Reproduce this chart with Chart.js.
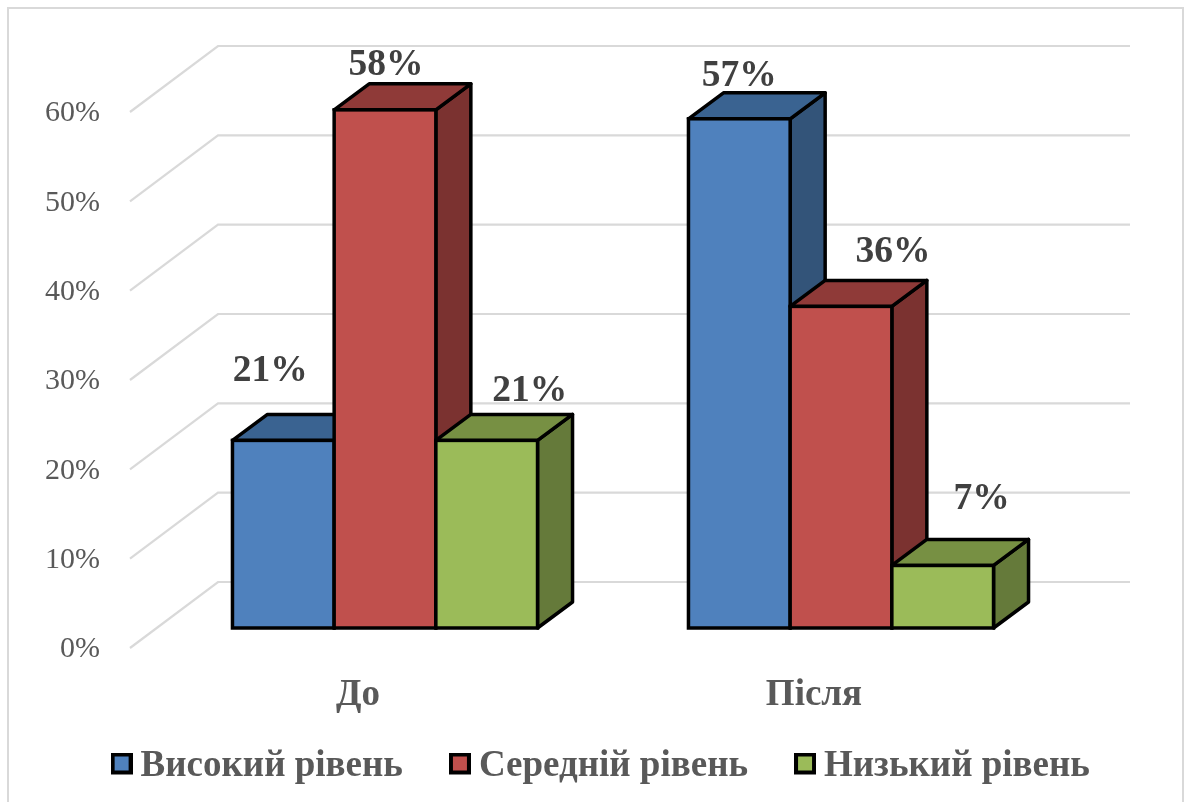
<!DOCTYPE html>
<html><head><meta charset="utf-8">
<style>html,body{margin:0;padding:0;background:#fff}canvas{display:block}</style>
<script src="https://cdn.jsdelivr.net/npm/chart.js@4/dist/chart.umd.min.js"></script>
</head><body>
<canvas id="c" width="1187" height="802"></canvas>
<script>
const categories = ['До', 'Після'];
const seriesNames = ['Високий рівень', 'Середній рівень', 'Низький рівень'];
const highLevel = [21, 57];
const midLevel = [58, 36];
const lowLevel = [21, 7];
const frontColors = ['#4F81BD', '#C0504D', '#9BBB59'];
const topColors = ['#3A6391', '#8F3A38', '#779043'];
const sideColors = ['#335479', '#7B3230', '#657A3A'];
const labelNudges = [[[-13,-69],[0,-42]], [[1,-45],[52,-54]], [[43,-49],[39,-66]]];

const wallDepth = {dx: 88, dy: -66};
const barDepth = {dx: 35, dy: -26};
const barShift = -20;

function swatch(color){
  const c = document.createElement('canvas'); c.width = 22; c.height = 28;
  const g = c.getContext('2d');
  g.fillStyle = '#000'; g.fillRect(0,0,22,22);
  g.fillStyle = color; g.fillRect(4,4,14,14);
  return c;
}
const swatches = frontColors.map(swatch);

function poly(ctx, pts, fill){
  ctx.beginPath();
  pts.forEach((p,i)=> i ? ctx.lineTo(p[0],p[1]) : ctx.moveTo(p[0],p[1]));
  ctx.closePath();
  ctx.fillStyle = fill; ctx.fill();
  ctx.lineWidth = 3.5; ctx.lineJoin = 'round'; ctx.strokeStyle = '#000'; ctx.stroke();
}

const scene = {
  id: 'scene',
  beforeLayout(chart){
    const lg = chart.legend;
    if (lg && !lg._patched){
      const f = lg.fit;
      lg.fit = function(){ this.maxWidth = 1400; f.call(this); this.height = 10; };
      lg._patched = true;
    }
  },
  afterLayout(chart){
    const lg = chart.legend;
    lg.left = 12; lg.right = lg.left + 1187;
    lg.top = 770 - lg.options.labels.padding - 22;
  },
  beforeDraw(chart){
    const ctx = chart.ctx, y = chart.scales.y;
    ctx.save();
    ctx.fillStyle = '#fff'; ctx.fillRect(0,0,chart.width,chart.height);
    ctx.strokeStyle = '#D9D9D9'; ctx.lineWidth = 2;
    ctx.strokeRect(8,8,1175,810);
    ctx.lineWidth = 2.2;
    const xL = 130, xK = xL + wallDepth.dx, xR = 1130;
    y.ticks.forEach(t=>{
      const py = y.getPixelForValue(t.value);
      ctx.beginPath();
      ctx.moveTo(xL,py); ctx.lineTo(xK,py+wallDepth.dy); ctx.lineTo(xR,py+wallDepth.dy);
      ctx.stroke();
    });
    ctx.restore();
  },
  beforeDatasetsDraw(chart){
    const ctx = chart.ctx;
    ctx.save();
    ctx.translate(0, barShift);
    const {dx,dy} = barDepth;
    chart.data.datasets.forEach((ds,i)=>{
      const meta = chart.getDatasetMeta(i);
      meta.data.forEach(el=>{
        const l = el.x - el.width/2, r = el.x + el.width/2, t = el.y, b = el.base;
        poly(ctx,[[r,t],[r+dx,t+dy],[r+dx,b+dy],[r,b]],sideColors[i]);
        poly(ctx,[[l,t],[l+dx,t+dy],[r+dx,t+dy],[r,t]],topColors[i]);
        el.draw(ctx);
        ctx.lineWidth = 3.5; ctx.lineJoin = 'miter'; ctx.strokeStyle = '#000';
        ctx.strokeRect(l,t,r-l,b-t);
      });
    });
    ctx.font = 'bold 37.5px "Liberation Serif"';
    ctx.fillStyle = '#404040'; ctx.textAlign = 'center'; ctx.textBaseline = 'middle';
    chart.data.datasets.forEach((ds,i)=>{
      chart.getDatasetMeta(i).data.forEach((el,j)=>{
        const n = labelNudges[i][j];
        ctx.fillText(ds.data[j] + '%', el.x + n[0], el.y + n[1]);
      });
    });
    ctx.restore();
    return false;
  }
};

new Chart(document.getElementById('c'), {
  type: 'bar',
  data: {
    labels: categories,
    datasets: [highLevel, midLevel, lowLevel].map((d,i)=>({
      label: seriesNames[i], data: d,
      backgroundColor: frontColors[i], borderWidth: 0, borderSkipped: false
    }))
  },
  options: {
    responsive: false, animation: false,
    layout: {padding: {top: 112, right: 118, left: 0, bottom: 0}},
    datasets: {bar: {barPercentage: 1, categoryPercentage: 0.669}},
    plugins: {
      tooltip: {enabled: false},
      legend: {
        position: 'bottom',
        labels: {
          usePointStyle: true, pointStyleWidth: 1, padding: 56.5,
          font: {family: '"Liberation Serif"', size: 37, weight: 'bold'}, color: '#595959',
          generateLabels: c => c.data.datasets.map((d,i)=>({
            text: d.label, pointStyle: swatches[i], fontColor: '#595959',
            datasetIndex: i, lineWidth: 0, strokeStyle: 'transparent', fillStyle: frontColors[i]
          }))
        }
      }
    },
    scales: {
      x: {
        grid: {display: false}, border: {display: false},
        afterFit(s){ s.height = 144; },
        ticks: {padding: 17, labelOffset: -27, maxRotation: 0, color: '#595959', font: {family: '"Liberation Serif"', size: 37, weight: 'bold'}}
      },
      y: {
        min: 0, max: 60,
        grid: {display: false, drawTicks: false}, border: {display: false},
        afterFit(s){ s.width = 157; },
        ticks: {stepSize: 10, padding: 57, labelOffset: 1.5, callback: v => v + '%', color: '#595959', font: {family: '"Liberation Serif"', size: 30}}
      }
    }
  },
  plugins: [scene]
});
</script>
</body></html>
